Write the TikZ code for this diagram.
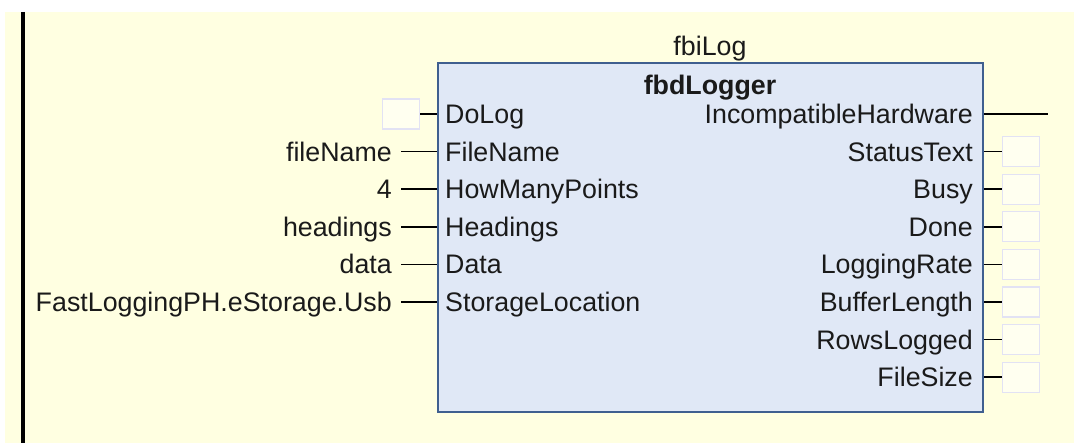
\documentclass[tikz,border=0pt]{standalone}
\usepackage{fontspec}
\setmainfont{Liberation Sans}
\usepackage{tikz}
\usetikzlibrary{positioning,calc}
\definecolor{bgyellow}{HTML}{FFFFE1}
\definecolor{fbfill}{HTML}{E0E8F6}
\definecolor{fbline}{HTML}{3F5F8F}
\definecolor{slotline}{HTML}{E2E2F4}
\definecolor{slotfill}{HTML}{FFFFF0}
\definecolor{txt}{HTML}{1A1A1A}
\begin{document}
\begin{tikzpicture}[x=1pt,y=-1pt,
  fb/.style={draw=fbline,line width=2pt,fill=fbfill,minimum width=545pt,minimum height=349pt,inner sep=0pt},
  pinl/.style={anchor=west,font=\fontsize{26.8}{30}\selectfont,text=txt,inner xsep=7pt,inner ysep=0pt,text height=21pt,text depth=2pt},
  pinr/.style={pinl,anchor=east,inner xsep=10pt},
  arg/.style={pinl,anchor=east,inner xsep=9pt},
  slot/.style={draw=slotline,line width=1.2pt,fill=slotfill,minimum width=37pt,minimum height=30pt,inner sep=0pt},
  wire/.style={line width=1.6pt,black}]
 \useasboundingbox (0,0) rectangle (1074,443);
 \fill[bgyellow] (5,12) rectangle (1074,443);
 \draw[line width=4pt] (23,12) -- (23,443);
 % function block
 \node[fb] (fb) at (710.5,237.5) {};
 \node[pinl,anchor=center] (inst) at (710,46) {fbiLog};
 \node[pinl,anchor=center,font=\fontsize{26.8}{30}\selectfont\bfseries] (type) at (710,85) {fbdLogger};
 % inputs
 \foreach \t [count=\i from 0] in {DoLog,FileName,HowManyPoints,Headings,Data,StorageLocation}
  \node[pinl] (i\i) at (438,114+37.6*\i) {\t};
 \node[slot,anchor=east] (dolog) at (420,114) {};
 \draw[wire] (dolog.east) -- (fb.west |- i0.west);
 \foreach \t [count=\i from 1] in {fileName,4,headings,data,FastLoggingPH.eStorage.Usb} {
  \node[arg] (a\i) at (401,114+37.6*\i) {\t};
  \draw[wire] (a\i.east) -- (fb.west |- i\i.west);
 }
 % outputs
 \foreach \t [count=\i from 0] in {IncompatibleHardware,StatusText,Busy,Done,LoggingRate,BufferLength,RowsLogged,FileSize}
  \node[pinr] (o\i) at (983,114+37.6*\i) {\t};
 \coordinate (hw) at (1048,114);
 \draw[wire] (fb.east |- o0.east) -- (hw);
 \foreach \i in {1,...,7} {
  \node[slot,anchor=west] (s\i) at (1002,114+37.6*\i) {};
  \draw[wire] (fb.east |- o\i.east) -- (s\i.west);
 }
\end{tikzpicture}
\end{document}
